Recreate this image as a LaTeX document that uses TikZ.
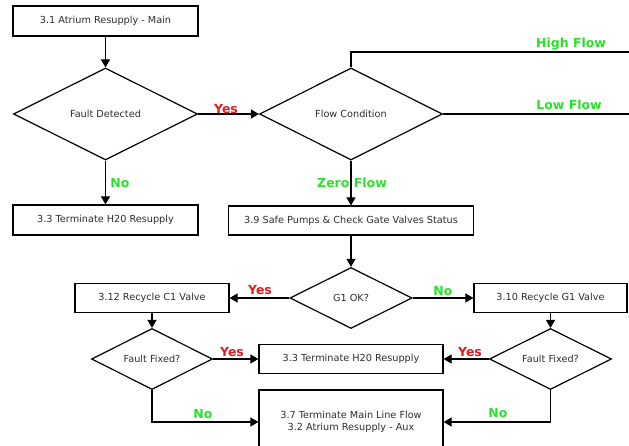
\documentclass[tikz,border=0pt]{standalone}
\usepackage{fontspec}
\setmainfont{DejaVu Sans}
\usetikzlibrary{shapes.geometric,arrows.meta}
\definecolor{lblred}{RGB}{222,30,30}
\definecolor{lblgreen}{RGB}{40,225,40}
\definecolor{txtgray}{RGB}{45,45,45}
\tikzset{
  x=1pt, y=-1pt,
  every node/.style={font=\fontsize{9.7}{11.5}\selectfont, text=txtgray},
  stepbox/.style={draw=black, line width=1.2pt, rectangle, inner sep=0pt, align=center},
  decision/.style={draw=black, line width=1.2pt, diamond, inner sep=0pt, aspect=2},
  conn/.style={line width=1.2pt, draw=black},
  arr/.style={conn, -{Triangle[length=8pt,width=9pt]}},
  yeslbl/.style={font=\fontsize{12.5}{14}\selectfont\bfseries, text=lblred, inner sep=0pt},
  nolbl/.style={font=\fontsize{12.5}{14}\selectfont\bfseries, text=lblgreen, inner sep=0pt},
}
\begin{document}
\begin{tikzpicture}
\useasboundingbox (0,0) rectangle (629,446);
% nodes
\node[stepbox, minimum width=185pt, minimum height=30pt] (a) at (105.5,21) {3.1 Atrium Resupply - Main};
\node[decision, minimum width=184pt, minimum height=92pt] (fd) at (105.5,114) {Fault Detected};
\node[decision, minimum width=183pt, minimum height=92pt] (fc) at (351,114) {Flow Condition};
\node[stepbox, minimum width=185pt, minimum height=30pt] (t1) at (105.5,220) {3.3 Terminate H20 Resupply};
\node[stepbox, minimum width=245pt, minimum height=29pt] (s9) at (351,220.5) {3.9 Safe Pumps \& Check Gate Valves Status};
\node[decision, minimum width=122pt, minimum height=61pt] (g1) at (351,298) {G1 OK?};
\node[stepbox, minimum width=154pt, minimum height=29pt] (c12) at (152,298) {3.12 Recycle C1 Valve};
\node[stepbox, minimum width=153pt, minimum height=29pt] (g10) at (550.5,298) {3.10 Recycle G1 Valve};
\node[decision, minimum width=121pt, minimum height=61pt] (ffl) at (152,359) {Fault Fixed?};
\node[decision, minimum width=122pt, minimum height=61pt] (ffr) at (550.5,359) {Fault Fixed?};
\node[stepbox, minimum width=184pt, minimum height=29pt] (t3) at (351,359) {3.3 Terminate H20 Resupply};
\node[stepbox, minimum width=184pt, minimum height=64pt] (t7) at (351,422) {3.7 Terminate Main Line Flow\\3.2 Atrium Resupply - Aux};
\coordinate (hfbend) at (351,52);
\coordinate (hf) at (632,52);
\coordinate (lf) at (632,114);
% connectors
\draw[arr] (a.south) -- (fd.north);
\draw[arr] (fd.east) -- (fc.west);
\node[yeslbl] (lyes1) at (226,109) {Yes};
\draw[conn] (fc.north) -- (hfbend) -- (hf);
\node[nolbl] (lhigh) at (571,44) {High Flow};
\draw[conn] (fc.east) -- (lf);
\node[nolbl] (llow) at (569,105) {Low Flow};
\draw[arr] (fc.south) -- (s9.north);
\node[nolbl] (lzero) at (352,183) {Zero Flow};
\draw[arr] (fd.south) -- (t1.north);
\node[nolbl] (lno1) at (120,183) {No};
\draw[arr] (s9.south) -- (g1.north);
\draw[arr] (g1.west) -- (c12.east);
\node[yeslbl] (lyes2) at (260,290) {Yes};
\draw[arr] (g1.east) -- (g10.west);
\node[nolbl] (lno2) at (443,291) {No};
\draw[arr] (c12.south) -- (ffl.north);
\draw[arr] (g10.south) -- (ffr.north);
\draw[arr] (ffl.east) -- (t3.west);
\node[yeslbl] (lyes3) at (232,352) {Yes};
\draw[arr] (ffr.west) -- (t3.east);
\node[yeslbl] (lyes4) at (470,352) {Yes};
\draw[arr] (ffl.south) |- (t7.west);
\node[nolbl] (lno3) at (203,414) {No};
\draw[arr] (ffr.south) |- (t7.east);
\node[nolbl] (lno4) at (498,413) {No};
\end{tikzpicture}
\end{document}
